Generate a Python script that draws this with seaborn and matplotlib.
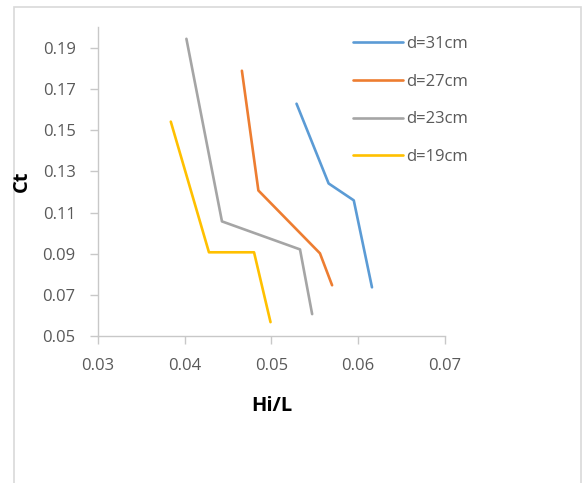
import matplotlib
matplotlib.use("Agg")
import matplotlib.pyplot as plt
import seaborn as sns
import pandas as pd
from matplotlib.patches import Rectangle

series_names = ["d=31cm", "d=27cm", "d=23cm", "d=19cm"]
hi_l_31 = [0.0529, 0.0566, 0.0595, 0.0616]
ct_31 = [0.1628, 0.1241, 0.1159, 0.0737]
hi_l_27 = [0.0466, 0.0485, 0.0556, 0.0570]
ct_27 = [0.1788, 0.1207, 0.0902, 0.0747]
hi_l_23 = [0.0402, 0.0443, 0.0533, 0.0547]
ct_23 = [0.1943, 0.1057, 0.0921, 0.0607]
hi_l_19 = [0.0384, 0.0428, 0.0480, 0.0499]
ct_19 = [0.1541, 0.0907, 0.0907, 0.0568]
colors = ["#5B9BD5", "#ED7D31", "#A5A5A5", "#FFC000"]
x_ticks = [0.03, 0.04, 0.05, 0.06, 0.07]
y_ticks = [0.05, 0.07, 0.09, 0.11, 0.13, 0.15, 0.17, 0.19]

xs = [hi_l_31, hi_l_27, hi_l_23, hi_l_19]
ys = [ct_31, ct_27, ct_23, ct_19]
rows = []
for name, xv, yv in zip(series_names, xs, ys):
    for i, (a, b) in enumerate(zip(xv, yv)):
        rows.append({"series": name, "order": i, "Hi/L": a, "Ct": b})
df = pd.DataFrame(rows)

sns.set_theme(style="white")
plt.rcParams["font.family"] = ["Open Sans", "DejaVu Sans"]

fig = plt.figure(figsize=(5.83, 4.83), dpi=100)
ax = fig.add_axes([0.168, 0.304, 0.595, 0.640])

sns.lineplot(data=df, x="Hi/L", y="Ct", hue="series", hue_order=series_names,
             palette=colors, sort=False, estimator=None, units="series",
             linewidth=1.9, ax=ax, legend=True)

ax.set_xlim(0.03, 0.07)
ax.set_ylim(0.05, 0.20)
ax.set_xticks(x_ticks)
ax.set_xticklabels([f"{v:.2f}" for v in x_ticks])
ax.set_yticks(y_ticks)
ax.set_yticklabels([f"{v:.2f}" for v in y_ticks])
for s in ["top", "right"]:
    ax.spines[s].set_visible(False)
for s in ["left", "bottom"]:
    ax.spines[s].set_color("#C8C8C8")
    ax.spines[s].set_linewidth(1.0)
ax.tick_params(axis="both", which="both", direction="out", length=6, width=1.0,
               color="#C8C8C8", labelcolor="#595959", labelsize=12, pad=10,
               bottom=True, left=True)
ax.set_xlabel("Hi/L", fontsize=14.5, fontweight="bold", color="#000000")
ax.xaxis.set_label_coords(0.5, -0.195)
ax.set_ylabel("Ct", fontsize=14.5, fontweight="bold", color="#000000")
ax.yaxis.set_label_coords(-0.19, 0.50)

handles, labels = ax.get_legend_handles_labels()
leg = ax.legend(handles, labels, loc="upper left", bbox_to_anchor=(353 / 583, 1 - 36 / 483),
                bbox_transform=fig.transFigure, frameon=False, fontsize=12,
                handlelength=3.0, handletextpad=0.2, labelspacing=1.3, borderaxespad=0,
                borderpad=0)
for t in leg.get_texts():
    t.set_color("#595959")

fig.patches.append(Rectangle((14 / 583, -0.01), (581 - 14) / 583, 1 - 7 / 483 + 0.01,
                             transform=fig.transFigure, fill=False,
                             edgecolor="#D9D9D9", linewidth=1.2, zorder=-1))

fig.savefig("out.png", dpi=100)
